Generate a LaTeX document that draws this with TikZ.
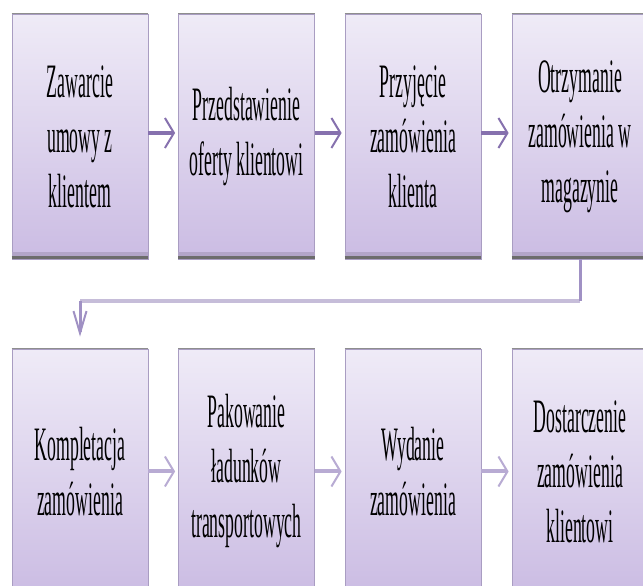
\documentclass[tikz,border=0pt]{standalone}
\usepackage{fontspec}
\newfontfamily\condfont[FakeStretch=0.37]{Liberation Serif}
\usetikzlibrary{arrows.meta}
\definecolor{boxtop}{HTML}{EFEBF7}
\definecolor{boxbot}{HTML}{CBBCE3}
\definecolor{boxside}{HTML}{A99DC2}
\definecolor{topedge}{HTML}{8E8E8E}
\definecolor{botband}{HTML}{B2A5C8}
\definecolor{botedge}{HTML}{6C6C6C}
\definecolor{arrowdark}{HTML}{8671AE}
\definecolor{arrowlight}{HTML}{B8ABD3}
\definecolor{connlight}{HTML}{C6BDD9}
\definecolor{connmid}{HTML}{A091C4}
\begin{document}
\begin{tikzpicture}[x=1pt,y=1pt,
  procbox/.style={minimum width=136pt, minimum height=245pt, inner sep=0pt,
    top color=boxtop, bottom color=boxbot, draw=boxside, line width=0.8pt,
    align=center, font=\condfont\fontsize{48}{55}\selectfont},
  flowdark/.style={line width=4pt, draw=arrowdark,
    -{Straight Barb[length=9pt,width=30pt,line width=2pt]}},
  flowlight/.style={line width=4pt, draw=arrowlight,
    -{Straight Barb[length=9pt,width=30pt,line width=2pt]}},
  connline/.style={line width=3.5pt, draw=connlight},
  connvert/.style={line width=3pt, draw=connmid},
  conntip/.style={line width=3pt, draw=connmid,
    -{Straight Barb[length=22pt,width=13pt,line width=2pt]}}]
\clip (0,0) rectangle (643,586);
\fill[white] (0,0) rectangle (643,586);

% top row
\node[procbox] (b1) at (80,449.5) {Zawarcie\\umowy z\\klientem};
\node[procbox] (b2) at (246.5,449.5) {Przedstawienie\\oferty klientowi};
\node[procbox] (b3) at (413,449.5) {Przyjęcie\\zamówienia\\klienta};
\node[procbox] (b4) at (580,449.5) {Otrzymanie\\zamówienia w\\magazynie};
% bottom row
\node[procbox] (b5) at (80,114.5) {Kompletacja\\zamówienia};
\node[procbox] (b6) at (246.5,114.5) {Pakowanie\\ładunków\\transportowych};
\node[procbox] (b7) at (413,114.5) {Wydanie\\zamówienia};
\node[procbox] (b8) at (580,114.5) {Dostarczenie\\zamówienia\\klientowi};

% box edges
\foreach \b in {b1,b2,b3,b4,b5,b6,b7,b8}{
  \draw[topedge, line width=1.6pt] (\b.north west) -- (\b.north east);
  \fill[botband] (\b.south west) rectangle ([yshift=7pt]\b.south east);
  \draw[botedge, line width=3pt] ([yshift=1.5pt]\b.south west) -- ([yshift=1.5pt]\b.south east);
}

% top row arrows
\draw[flowdark] ([yshift=3.5pt]b1.east) -- ([yshift=3.5pt,xshift=-3pt]b2.west);
\draw[flowdark] ([yshift=3.5pt]b2.east) -- ([yshift=3.5pt,xshift=-3pt]b3.west);
\draw[flowdark] ([yshift=3.5pt]b3.east) -- ([yshift=3.5pt,xshift=-3pt]b4.west);
% bottom row arrows
\draw[flowlight] (b5.east) -- ([xshift=-3pt]b6.west);
\draw[flowlight] (b6.east) -- ([xshift=-3pt]b7.west);
\draw[flowlight] (b7.east) -- ([xshift=-3pt]b8.west);

% connector between rows
\coordinate (c1) at (580,285);
\coordinate (c2) at (80,285);
\draw[connline] (c1) -- (c2);
\draw[connvert] (b4.south) -- (c1);
\draw[conntip] (c2) -- ([yshift=12pt]b5.north);
\end{tikzpicture}
\end{document}
